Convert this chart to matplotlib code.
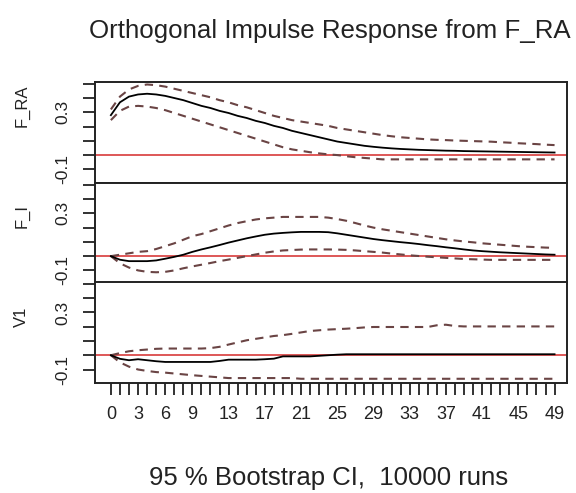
import matplotlib
matplotlib.use("Agg")
import matplotlib.pyplot as plt

plt.rcParams['font.family'] = ['Liberation Sans', 'DejaVu Sans']

# horizons 0..49, drawn at positions 1..50 like R does
horizon = list(range(50))
tick_pos = [1, 4, 7, 10, 14, 18, 22, 26, 30, 34, 38, 42, 46, 50]
tick_lab = ['0', '3', '6', '9', '13', '17', '21', '25', '29', '33', '37', '41', '45', '49']
panel_names = ['F_RA', 'F_I', 'V1']

# response of F_RA
fra_irf = [0.28, 0.37, 0.41, 0.425, 0.43, 0.425, 0.415, 0.40, 0.385, 0.365,
           0.345, 0.33, 0.31, 0.295, 0.275, 0.26, 0.24, 0.225, 0.205, 0.19,
           0.17, 0.155, 0.14, 0.125, 0.11, 0.095, 0.085, 0.075, 0.065, 0.058,
           0.052, 0.047, 0.043, 0.04, 0.037, 0.035, 0.033, 0.031, 0.03, 0.028,
           0.027, 0.026, 0.025, 0.024, 0.023, 0.022, 0.021, 0.02, 0.019, 0.018]
fra_upper = [0.32, 0.41, 0.46, 0.485, 0.495, 0.49, 0.48, 0.465, 0.45, 0.435,
             0.42, 0.405, 0.385, 0.37, 0.35, 0.335, 0.315, 0.295, 0.275, 0.26,
             0.245, 0.235, 0.225, 0.215, 0.205, 0.19, 0.18, 0.17, 0.16, 0.15,
             0.14, 0.132, 0.125, 0.12, 0.115, 0.11, 0.107, 0.105, 0.102, 0.1,
             0.098, 0.096, 0.094, 0.09, 0.087, 0.083, 0.08, 0.077, 0.073, 0.07]
fra_lower = [0.245, 0.31, 0.34, 0.345, 0.34, 0.33, 0.315, 0.295, 0.275, 0.255,
             0.235, 0.215, 0.195, 0.175, 0.155, 0.135, 0.115, 0.095, 0.075, 0.055,
             0.04, 0.03, 0.02, 0.012, 0.005, 0.0, -0.008, -0.015, -0.02, -0.025,
             -0.03, -0.03, -0.03, -0.03, -0.03, -0.03, -0.03, -0.03, -0.03, -0.03,
             -0.03, -0.03, -0.03, -0.03, -0.03, -0.03, -0.03, -0.03, -0.03, -0.03]

# response of F_I
fi_irf = [0.0, -0.025, -0.035, -0.035, -0.035, -0.03, -0.018, -0.005, 0.01, 0.03,
          0.047, 0.062, 0.078, 0.095, 0.11, 0.125, 0.138, 0.15, 0.158, 0.163,
          0.167, 0.17, 0.17, 0.17, 0.168, 0.16, 0.15, 0.14, 0.13, 0.12,
          0.112, 0.105, 0.098, 0.092, 0.085, 0.077, 0.07, 0.062, 0.055, 0.047,
          0.04, 0.035, 0.031, 0.027, 0.024, 0.021, 0.018, 0.015, 0.012, 0.01]
fi_upper = [0.0, 0.01, 0.02, 0.03, 0.035, 0.05, 0.07, 0.09, 0.115, 0.14,
            0.155, 0.175, 0.195, 0.215, 0.232, 0.245, 0.257, 0.265, 0.27, 0.275,
            0.275, 0.275, 0.275, 0.275, 0.27, 0.26, 0.248, 0.232, 0.215, 0.2,
            0.188, 0.178, 0.168, 0.158, 0.148, 0.138, 0.128, 0.118, 0.11, 0.103,
            0.097, 0.09, 0.085, 0.08, 0.075, 0.07, 0.066, 0.063, 0.06, 0.058]
fi_lower = [0.0, -0.05, -0.08, -0.1, -0.11, -0.113, -0.11, -0.1, -0.085, -0.072,
            -0.06, -0.048, -0.035, -0.024, -0.012, 0.0, 0.012, 0.024, 0.033, 0.04,
            0.043, 0.046, 0.047, 0.047, 0.047, 0.046, 0.044, 0.04, 0.035, 0.03,
            0.025, 0.018, 0.012, 0.006, 0.001, -0.004, -0.008, -0.012, -0.016, -0.02,
            -0.022, -0.024, -0.026, -0.026, -0.026, -0.026, -0.026, -0.026, -0.026, -0.026]

# response of V1
v1_irf = [0.0, -0.025, -0.035, -0.028, -0.035, -0.042, -0.047, -0.047, -0.047, -0.047,
          -0.047, -0.047, -0.04, -0.031, -0.031, -0.031, -0.031, -0.028, -0.024, -0.008,
          -0.008, -0.008, -0.008, -0.004, 0.0, 0.004, 0.007, 0.007, 0.007, 0.007,
          0.007, 0.007, 0.007, 0.007, 0.007, 0.007, 0.007, 0.007, 0.007, 0.007,
          0.007, 0.007, 0.007, 0.007, 0.007, 0.007, 0.007, 0.007, 0.007, 0.007]
v1_upper = [0.0, 0.015, 0.028, 0.035, 0.04, 0.045, 0.047, 0.047, 0.047, 0.047,
            0.047, 0.05, 0.059, 0.075, 0.09, 0.105, 0.115, 0.125, 0.135, 0.141,
            0.15, 0.16, 0.17, 0.175, 0.18, 0.183, 0.186, 0.19, 0.195, 0.198,
            0.198, 0.198, 0.198, 0.198, 0.198, 0.198, 0.21, 0.214, 0.205, 0.202,
            0.202, 0.202, 0.202, 0.202, 0.202, 0.202, 0.202, 0.202, 0.202, 0.202]
v1_lower = [0.0, -0.05, -0.08, -0.1, -0.11, -0.118, -0.122, -0.128, -0.134, -0.14,
            -0.145, -0.15, -0.155, -0.16, -0.16, -0.16, -0.16, -0.16, -0.16, -0.16,
            -0.16, -0.165, -0.165, -0.165, -0.165, -0.165, -0.165, -0.165, -0.165, -0.165,
            -0.165, -0.165, -0.165, -0.165, -0.165, -0.165, -0.165, -0.165, -0.165, -0.165,
            -0.165, -0.165, -0.165, -0.165, -0.165, -0.165, -0.165, -0.165, -0.165, -0.165]

irfs = [fra_irf, fi_irf, v1_irf]
uppers = [fra_upper, fi_upper, v1_upper]
lowers = [fra_lower, fi_lower, v1_lower]

xs = [h + 1 for h in horizon]

fig = plt.figure(figsize=(5.76, 4.93), dpi=100)
left, width = 0.165, 0.819
bottoms = [0.629, 0.424, 0.223]
height = 0.204

frame_col = '#222222'
ci_col = '#6a4444'

for k in range(3):
    ax = fig.add_axes([left, bottoms[k], width, height])
    ax.axhline(0, color='#d42a2a', lw=1.1, zorder=1)
    ax.plot(xs, uppers[k], color=ci_col, lw=1.5, ls=(0, (4, 3)), zorder=2)
    ax.plot(xs, lowers[k], color=ci_col, lw=1.5, ls=(0, (4, 3)), zorder=2)
    ax.plot(xs, irfs[k], color='black', lw=1.3, zorder=3)

    ax.set_xlim(-0.75, 51.35)
    ax.set_ylim(-0.195, 0.51)
    ax.set_yticks([-0.1, 0.0, 0.1, 0.2, 0.3, 0.4, 0.5])
    ax.set_yticklabels(['-0.1', '', '', '', '0.3', '', ''], rotation=90, va='center')
    ax.tick_params(axis='y', length=8.5, width=1.3, color=frame_col,
                   labelsize=12.5, labelcolor='#222222', pad=9)
    # R puts the panel name a bit above the middle of the panel
    ax.text(-0.155, 0.56, panel_names[k], transform=ax.transAxes, rotation=90,
            ha='center', va='bottom', fontsize=12, color='#222222')
    for sp in ax.spines.values():
        sp.set_color(frame_col)
        sp.set_linewidth(1.4)

    if k < 2:
        ax.set_xticks([])
    else:
        ax.set_xticks(xs, minor=True)
        ax.set_xticks(tick_pos)
        ax.set_xticklabels(tick_lab)
        ax.tick_params(axis='x', which='both', length=8.5, width=1.3,
                       color=frame_col, labelsize=13, labelcolor='#222222', pad=8)

fig.text(0.573, 0.923, 'Orthogonal Impulse Response from F_RA', ha='center', va='baseline',
         fontsize=18.6, color='#222222')
fig.text(0.571, 0.016, '95 % Bootstrap CI,  10000 runs', ha='center', va='baseline',
         fontsize=18.5, color='#222222')

fig.savefig('out.png', dpi=100)
